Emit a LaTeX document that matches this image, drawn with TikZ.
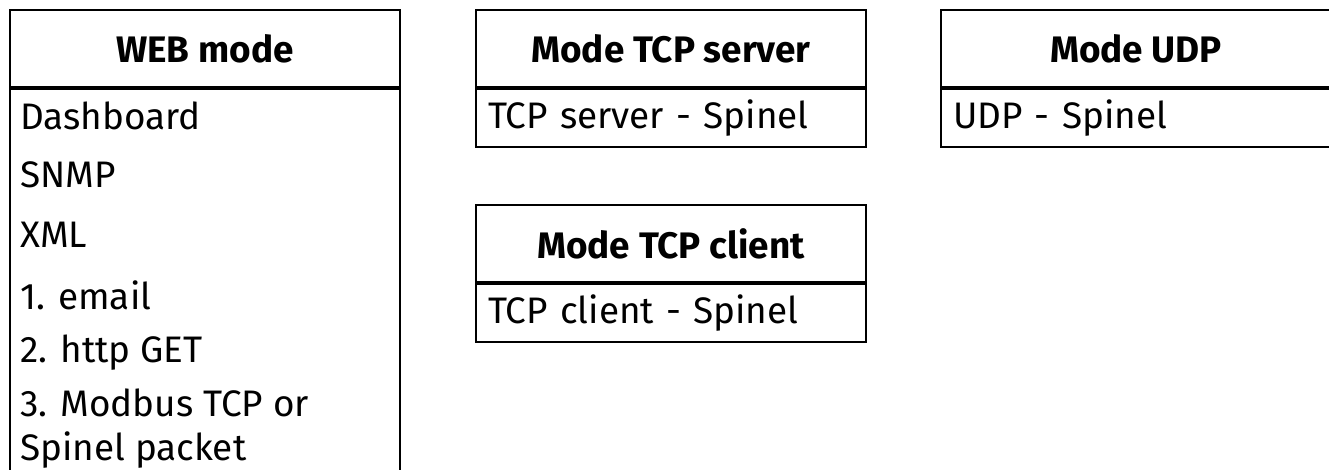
\documentclass[tikz,border=0pt]{standalone}
\usepackage{fontspec}
\setmainfont{Fira Sans}
\usetikzlibrary{positioning}

\begin{document}
\begin{tikzpicture}[
    x=0.02cm, y=-0.02cm,
    node distance=0pt,
    head/.style={draw, line width=1.2pt, anchor=north west, minimum width=7.8cm, minimum height=1.54cm, inner sep=0pt, font=\fontsize{21}{25}\selectfont\bfseries},
    body/.style={draw, line width=1.2pt, minimum width=7.8cm, minimum height=1.16cm, inner xsep=0.24cm, inner ysep=0pt, text width=7.32cm, align=left, font=\fontsize{21}{25}\selectfont},
    item/.style={anchor=west, inner sep=0pt, align=left, font=\fontsize{21}{25}\selectfont}
]
\useasboundingbox (0,0) rectangle (1329,470);
\clip (0,0) rectangle (1329,470);

% web mode column, runs past the bottom edge
\node[head] (webhead) at (9,9) {WEB mode};
\node[body, below=of webhead, minimum height=8.6cm] (webbody) {};
\node[item] (dash) at (20,116) {Dashboard};
\node[item] (snmp) at (20,175) {SNMP};
\node[item] (xml) at (20,235) {XML};
\node[item] (email) at (20,295) {1. email};
\node[item] (http) at (20,353) {2. http GET};
\node[item] (modbus) at (20,429) {3. Modbus TCP or\\Spinel packet};

% TCP modes
\node[head] (serverhead) at (475,9) {Mode TCP server};
\node[body, below=of serverhead] (serverbody) {TCP server - Spinel};
\node[head] (clienthead) at (475,204) {Mode TCP client};
\node[body, below=of clienthead] (clientbody) {TCP client - Spinel};

% UDP mode, cut at the right edge
\node[head] (udphead) at (940,9) {Mode UDP};
\node[body, below=of udphead] (udpbody) {UDP - Spinel};
\end{tikzpicture}
\end{document}
